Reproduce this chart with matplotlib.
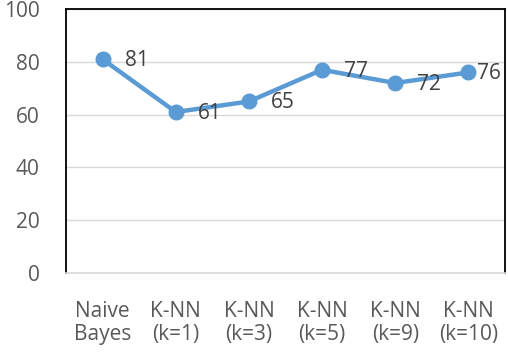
import matplotlib
matplotlib.use("Agg")
import matplotlib.pyplot as plt

categories = ["Naive\nBayes", "K-NN\n(k=1)", "K-NN\n(k=3)", "K-NN\n(k=5)", "K-NN\n(k=9)", "K-NN\n(k=10)"]
values = [81, 61, 65, 77, 72, 76]
yticks = [0, 20, 40, 60, 80, 100]

plt.rcParams['font.family'] = ['Open Sans', 'DejaVu Sans']

fig = plt.figure(figsize=(5.08, 3.59), dpi=100)
ax = fig.add_axes([0.13, 0.2396, 0.864, 0.735])

x = list(range(len(categories)))
ax.plot(x, values, color='#5B9BD5', linewidth=3.2, marker='o', markersize=10.5,
        markerfacecolor='#5B9BD5', markeredgecolor='#5B9BD5', zorder=3, solid_capstyle='round')
n = len(values)
for i, (xi, v) in enumerate(zip(x, values)):
    dx = 6 if i == n - 1 else 16
    ax.annotate(str(v), (xi, v), xytext=(dx, -1), textcoords='offset points',
                ha='left', va='center', fontsize=15, color='#404040', zorder=4)

ax.set_xlim(-0.5, len(categories) - 0.5)
ax.set_ylim(0, 100)
ax.set_yticks(yticks)
ax.set_yticklabels([str(t) for t in yticks])
ax.set_xticks(x)
ax.set_xticklabels(categories, linespacing=1.15)
ax.tick_params(axis='both', length=0, labelsize=15, labelcolor='#595959')
ax.tick_params(axis='y', pad=19)
ax.tick_params(axis='x', pad=20)
ax.grid(axis='y', color='#D9D9D9', linewidth=1)
ax.set_axisbelow(True)
for s in ['left', 'top', 'right']:
    ax.spines[s].set_color('black')
    ax.spines[s].set_linewidth(1.3)
ax.spines['bottom'].set_color('#D9D9D9')
ax.spines['bottom'].set_linewidth(1.2)

fig.savefig('out.png', dpi=100)
